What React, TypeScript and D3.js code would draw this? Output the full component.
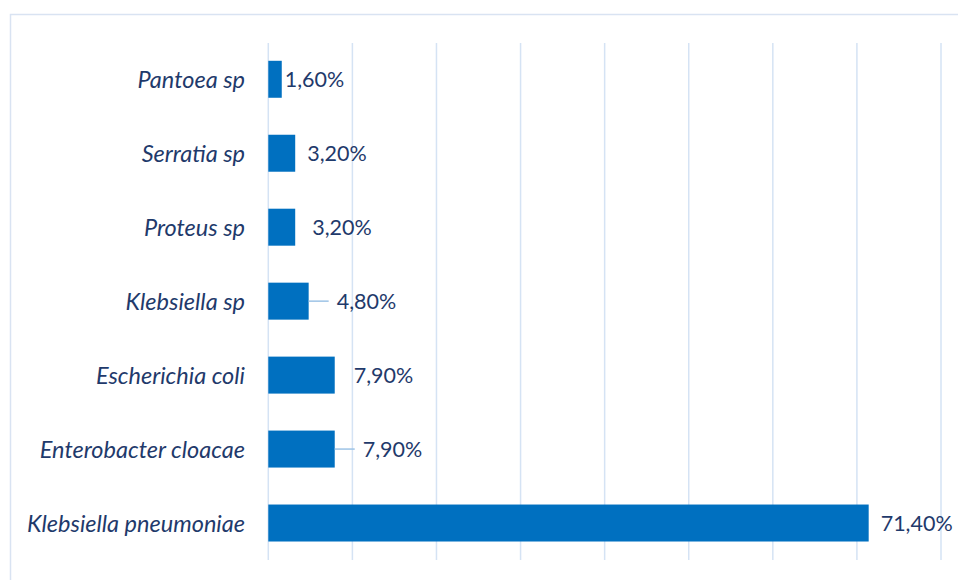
import React from "react";
import * as d3 from "d3";

const categories = [
  "Pantoea sp",
  "Serratia sp",
  "Proteus sp",
  "Klebsiella sp",
  "Escherichia coli",
  "Enterobacter cloacae",
  "Klebsiella pneumoniae",
];
const values = [1.6, 3.2, 3.2, 4.8, 7.9, 7.9, 71.4];
const valueLabels = ["1,60%", "3,20%", "3,20%", "4,80%", "7,90%", "7,90%", "71,40%"];
const xTicks = [0, 10, 20, 30, 40, 50, 60, 70, 80];

// manual label placement (px gap after bar end) and leader lines
const labelGap = [3, 12, 17, 28, 19, 28, 12];
const hasLeader = [false, false, false, true, false, true, false];

const W = 958;
const H = 580;
const TEXT = "#1f3a6b";
const BAR = "#0070c0";
const GRID = "#d5e3f4";
const FONT = "Lato, 'Open Sans', sans-serif";

export default function App() {
  const x = d3.scaleLinear().domain([0, 80]).range([268.3, 941]);
  const y = d3
    .scaleBand()
    .domain(categories)
    .range([42.3, 560])
    .paddingInner(0.5)
    .paddingOuter(0.25);

  return (
    <svg
      width={W}
      height={H}
      style={{ position: "absolute", left: 0, top: 0, background: "#fff" }}
    >
      <rect x={10.5} y={14.5} width={980} height={600} fill="#fff" stroke="#d9e3f2" strokeWidth={1.5} />
      {xTicks.map((t) => (
        <line
          key={t}
          x1={x(t)}
          x2={x(t)}
          y1={43}
          y2={560}
          stroke={GRID}
          strokeWidth={1.5}
        />
      ))}
      {categories.map((c, i) => {
        const yc = (y(c) as number) + y.bandwidth() / 2;
        const xe = x(values[i]);
        const lx = xe + labelGap[i];
        return (
          <g key={c}>
            <rect x={x(0)} y={y(c)} width={xe - x(0)} height={y.bandwidth()} fill={BAR} />
            {hasLeader[i] && (
              <line x1={xe} x2={lx - 8} y1={yc} y2={yc} stroke="#9dc3e6" strokeWidth={1.5} />
            )}
            <text
              x={245}
              y={yc}
              textAnchor="end"
              dominantBaseline="central"
              fontFamily={FONT}
              fontStyle="italic"
              fontSize={23.5}
              fill={TEXT}
            >
              {c}
            </text>
            <text
              x={lx}
              y={yc}
              dominantBaseline="central"
              fontFamily={FONT}
              fontSize={21.5}
              fill={TEXT}
            >
              {valueLabels[i]}
            </text>
          </g>
        );
      })}
    </svg>
  );
}
